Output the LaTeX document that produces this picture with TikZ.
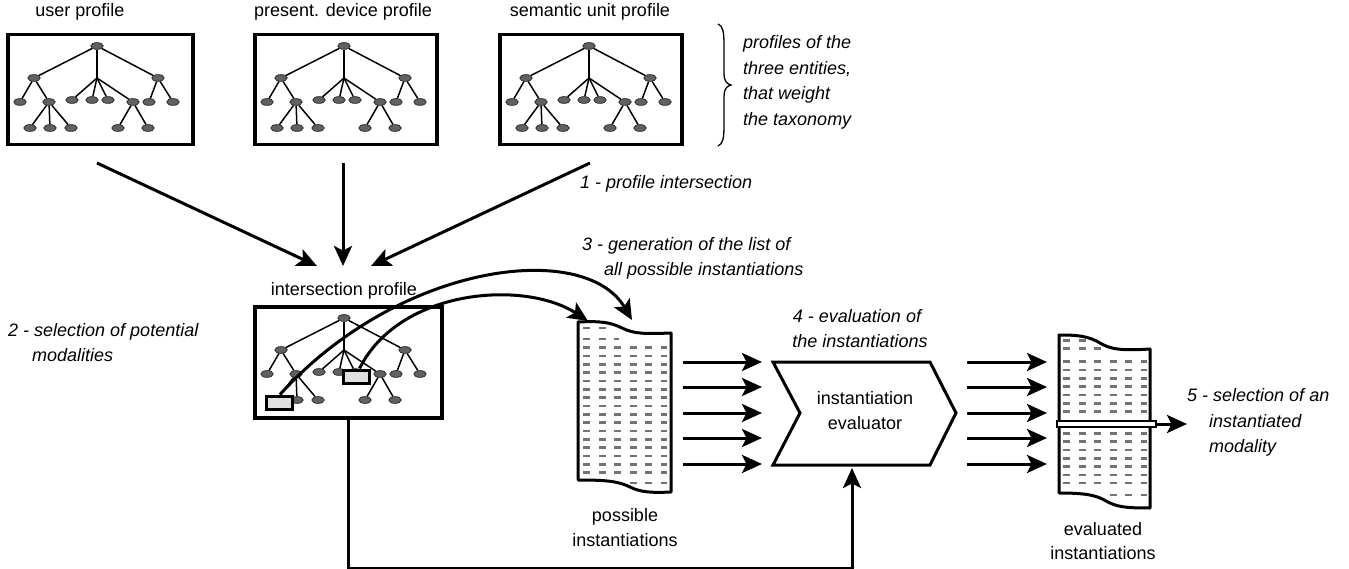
\documentclass[tikz,border=0pt]{standalone}
\usepackage{fontspec}
\setmainfont{Liberation Sans}
\usetikzlibrary{arrows.meta,shapes.geometric}
\newcommand{\proftree}[1]{%
  \coordinate (#1c) at (91,45);
  \node[leaf] (#1r) at (91,13) {};
  \node[leaf] (#1a) at (28,45) {};
  \node[leaf] (#1b) at (152,45) {};
  \node[leaf] (#1a1) at (14,69) {};
  \node[leaf] (#1a2) at (43,69) {};
  \node[leaf] (#1c1) at (66,67) {};
  \node[leaf] (#1c2) at (86,67) {};
  \node[leaf] (#1c3) at (102,67) {};
  \node[leaf] (#1c4) at (127,69) {};
  \node[leaf] (#1b1) at (143,69) {};
  \node[leaf] (#1b2) at (167,69) {};
  \node[leaf] (#1d1) at (24,95) {};
  \node[leaf] (#1d2) at (44,95) {};
  \node[leaf] (#1d3) at (65,95) {};
  \node[leaf] (#1e1) at (112,95) {};
  \node[leaf] (#1e2) at (142,95) {};
  \draw[tl] (#1r) -- (#1a);
  \draw[tl] (#1r) -- (#1c);
  \draw[tl] (#1r) -- (#1b);
  \draw[tl] (#1a) -- (#1a1);
  \draw[tl] (#1a) -- (#1a2);
  \draw[tl] (#1a2) -- (#1d1);
  \draw[tl] (#1a2) -- (#1d2);
  \draw[tl] (#1a2) -- (#1d3);
  \draw[tl] (#1c) -- (#1c1);
  \draw[tl] (#1c) -- (#1c2);
  \draw[tl] (#1c) -- (#1c3);
  \draw[tl] (#1c) -- (#1c4);
  \draw[tl] (#1c4) -- (#1e1);
  \draw[tl] (#1c4) -- (#1e2);
  \draw[tl] (#1b) -- (#1b1);
  \draw[tl] (#1b) -- (#1b2);
}
\begin{document}
\begin{tikzpicture}[x=1pt,y=-1pt,
  profbox/.style={draw, line width=3.5pt, inner sep=0pt, anchor=north west},
  leaf/.style={ellipse, draw=black!85, fill=black!62, line width=0.7pt, minimum width=12.5pt, minimum height=6.8pt, inner sep=0pt},
  tl/.style={line width=1.5pt},
  arr/.style={line width=3pt, -{Stealth[length=20pt,width=18pt,inset=4.5pt]}},
  lbl/.style={font=\fontsize{18}{22}\selectfont, inner sep=0pt},
  ital/.style={font=\fontsize{18}{22}\selectfont\itshape, inner sep=0pt},
  doc/.style={draw, line width=3pt, fill=white, line join=round},
  dashrow/.style={draw=black!55, line width=2.6pt, dash pattern=on 7pt off 8.6pt},
  dashrowb/.style={draw=black!55, line width=2.6pt, dash pattern=on 7pt off 8.5pt},
  sel/.style={draw, line width=3pt, fill=black!12, minimum width=26pt, minimum height=13pt, inner sep=0pt}
]
\useasboundingbox (0,0) rectangle (1349,569);

% profile boxes
\node[profbox, minimum width=185pt, minimum height=110pt] (ubox) at (6,33) {};
\node[profbox, minimum width=182pt, minimum height=110pt] (dbox) at (253,33) {};
\node[profbox, minimum width=182pt, minimum height=110pt] (sbox) at (498,33) {};
\node[profbox, minimum width=187pt, minimum height=111pt] (ibox) at (253,305) {};
\begin{scope}[shift={(6,33)}]\proftree{u}\end{scope}
\begin{scope}[shift={(253,33)}]\proftree{d}\end{scope}
\begin{scope}[shift={(498,33)}]\proftree{s}\end{scope}
\begin{scope}[shift={(253,305)}]\proftree{i}\end{scope}

% titles
\node[lbl, anchor=base] (tu) at (80,17) {user profile};
\node[lbl, anchor=base] (td) at (343,17) {present. device profile};
\node[lbl, anchor=base] (ts) at (590,17) {semantic unit profile};
\node[lbl, anchor=base] (ti) at (344,295) {intersection profile};

% brace and its text
\draw[line width=1.3pt] (718,24) .. controls (723,26) and (724,32) .. (724,45) -- (724,74)
  .. controls (724,81) and (727,84) .. (731,85) .. controls (727,86) and (724,89) .. (724,96)
  -- (724,125) .. controls (724,138) and (723,144) .. (718,146);
\node[ital, anchor=base west] (b1) at (743,49) {profiles of the};
\node[ital, anchor=base west] (b2) at (743,74.5) {three entities,};
\node[ital, anchor=base west] (b3) at (743,100) {that weight};
\node[ital, anchor=base west] (b4) at (743,125.5) {the taxonomy};

% step labels
\node[ital, anchor=base west] (l1) at (580,189) {1 - profile intersection};
\node[ital, anchor=base west] (l3a) at (582,251) {3 - generation of the list of};
\node[ital, anchor=base west] (l3b) at (604,276) {all possible instantiations};
\node[ital, anchor=base west] (l2a) at (8,336) {2 - selection of potential};
\node[ital, anchor=base west] (l2b) at (32,361) {modalities};
\node[ital, anchor=base] (l4a) at (857,322) {4 - evaluation of};
\node[ital, anchor=base] (l4b) at (860,347) {the instantiations};
\node[ital, anchor=base west] (l5a) at (1187,401) {5 - selection of an};
\node[ital, anchor=base west] (l5b) at (1209,427) {instantiated};
\node[ital, anchor=base west] (l5c) at (1209,452) {modality};

% arrows into intersection profile
\coordinate (a1s) at (97,163);  \coordinate (a1e) at (317,266);
\coordinate (a2s) at (343,163); \coordinate (a2e) at (343,266);
\coordinate (a3s) at (590,163); \coordinate (a3e) at (371,266);
\draw[arr] (a1s) -- (a1e);
\draw[arr] (a2s) -- (a2e);
\draw[arr] (a3s) -- (a3e);

% possible instantiations document
\draw[doc] (578,322) .. controls (600,321) and (610,322) .. (622,328)
  .. controls (634,334) and (645,334) .. (671,333) -- (671,492)
  .. controls (650,493) and (640,492) .. (630,487)
  .. controls (618,481) and (605,480) .. (578,480) -- cycle;
\draw[dashrow] (583,328) -- (606,328);
\draw[dashrow] (583,339) -- (619,339);
\foreach \i in {0,...,15} { \draw[dashrow] (583,{347.7+8.33*\i}) -- (667,{347.7+8.33*\i}); }
\draw[dashrow] (629.8,483) -- (667,483);
\node[lbl, anchor=base] (tp1) at (625,521) {possible};
\node[lbl, anchor=base] (tp2) at (625,546) {instantiations};

% selected elements in the intersection profile and generation arrows
\node[sel] (s1) at (279,402.5) {};
\node[sel] (s2) at (356.5,376.5) {};
\coordinate (g1) at (632,320);
\coordinate (g2) at (588,321);
\draw[arr] ([xshift=1pt]s1.north) .. controls (400,262) and (585,240) .. (g1);
\draw[arr] ([xshift=3pt]s2.north) .. controls (400,288) and (525,280) .. (g2);

% instantiation evaluator
\draw[line width=3pt, line join=miter] (773,362) -- (930,362) -- (956,413) -- (930,465) -- (773,465) -- (800,413) -- cycle;
\node[lbl, anchor=base] (ev1) at (865,404) {instantiation};
\node[lbl, anchor=base] (ev2) at (865,429) {evaluator};
\coordinate (evb) at (852,468);

% arrows in and out of the evaluator
\foreach \y [count=\k] in {362,387,413,438,464} {
  \coordinate (li\k) at (683,\y); \coordinate (le\k) at (762,\y);
  \coordinate (ri\k) at (967,\y); \coordinate (re\k) at (1047,\y);
  \draw[arr] (li\k) -- (le\k);
  \draw[arr] (ri\k) -- (re\k);
}

% evaluated instantiations document
\draw[doc] (1059,335) .. controls (1078,335) and (1088,336) .. (1100,343)
  .. controls (1110,349) and (1120,351) .. (1150,349) -- (1150,508)
  .. controls (1125,508) and (1117,507) .. (1106,501)
  .. controls (1096,495) and (1085,493) .. (1059,493) -- cycle;
\draw[dashrowb] (1063,340.7) -- (1086,340.7);
\draw[dashrowb] (1063,348.5) -- (1101,348.5);
\foreach \i in {0,...,6} { \draw[dashrowb] (1063,{361.7+8.3*\i}) -- (1147,{361.7+8.3*\i}); }
\foreach \i in {0,...,6} { \draw[dashrowb] (1063,{433.3+8.3*\i}) -- (1147,{433.3+8.3*\i}); }
\draw[dashrowb] (1109.5,495) -- (1147,495);
\node[draw, line width=2.2pt, fill=white, minimum width=99pt, minimum height=6pt, inner sep=0pt] (bar) at (1106.5,424) {};
\coordinate (selout) at (1187,424);
\draw[arr] (bar.east) -- (selout);
\node[lbl, anchor=base] (te1) at (1103,535) {evaluated};
\node[lbl, anchor=base] (te2) at (1103,559) {instantiations};

% feedback connector
\draw[arr] (ibox.south) -- ++(0,149) -| (evb);
\end{tikzpicture}
\end{document}
